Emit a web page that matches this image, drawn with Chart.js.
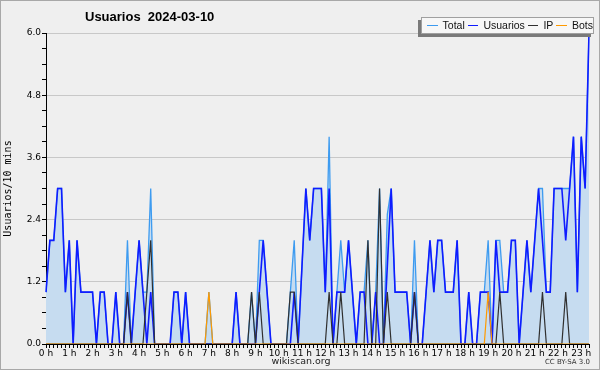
<!DOCTYPE html>
<html>
<head>
<meta charset="utf-8">
<script src="https://cdn.jsdelivr.net/npm/chart.js@4.4.1/dist/chart.umd.min.js"></script>
<style>
  html, body { margin: 0; padding: 0; }
  body { width: 600px; height: 370px; background: #efefef; font-family: "DejaVu Sans", sans-serif; }
  #wrap { position: relative; width: 598px; height: 368px; border: 1px solid #a8a8a8; overflow: hidden; }
  #chart { position: absolute; left: -1px; top: -1px; }
  #title { position: absolute; left: 84px; top: 8px; font-family: "Liberation Sans", sans-serif; font-weight: bold;
           font-size: 13px; color: #000; white-space: pre; }
  #legend { position: absolute; left: 420px; top: 16px; width: 171px; height: 15px; background: #f7f7f7;
            border: 1px solid #a0a0a0; box-shadow: -3px 3px 0 #7a7a7a; display: flex; align-items: flex-start;
            font-family: "Liberation Sans", sans-serif; font-size: 10.5px; line-height: 15px; color: #111; white-space: nowrap; }
  #legend .swatch { width: 11px; height: 1px; margin: 7px 5px 0 3px; }
  #legend .swatch:first-child { margin-left: 5px; }
  #site { position: absolute; left: 0; width: 600px; top: 354px; text-align: center; font-size: 9.5px; color: #222; }
  #lic { position: absolute; right: 9px; top: 357px; font-size: 7px; color: #333; }
</style>
</head>
<body>
<div id="wrap">
  <canvas id="chart" width="600" height="370"></canvas>
  <div id="title">Usuarios  2024-03-10</div>
  <div id="legend"></div>
  <div id="site">wikiscan.org</div>
  <div id="lic">CC BY-SA 3.0</div>
</div>
<script>
// 10-minute slots from 00:00 to 23:20
const hourLabels = ['0 h','1 h','2 h','3 h','4 h','5 h','6 h','7 h','8 h','9 h','10 h','11 h',
  '12 h','13 h','14 h','15 h','16 h','17 h','18 h','19 h','20 h','21 h','22 h','23 h'];

const usuarios = [
  1,2,2,3,3,1, 2,0,2,1,1,1, 1,0,1,1,0,0, 1,0,0,1,0,1, 2,1,0,1,0,0,
  0,0,0,1,1,0, 1,0,0,0,0,0, 0,0,0,0,0,0, 0,1,0,0,0,0, 0,1,2,1,0,0,
  0,0,0,0,1,0, 1.5,3,2,3,3,3, 1,3,0,1,1,1, 2,1,0,1,1,0, 0,1,0,0,1.5,3,
  1,1,1,1,0,1, 0,0,1,2,1,2, 2,1,1,1,2,0, 0,1,0,0,1,1, 1,0,2,1,1,1,
  2,2,0,1,2,1, 2,3,2,1,1,3, 3,3,2,3,4,1, 4,3,6
];
const ip = [
  0,0,0,0,0,0, 0,0,0,0,0,0, 0,0,0,0,0,0, 0,0,0,1,0,0, 0,0,1,2,0,0,
  0,0,0,0,0,0, 0,0,0,0,0,0, 0,0,0,0,0,0, 0,0,0,0,0,1, 0,1,0,0,0,0,
  0,0,0,1,1,0, 0,0,0,0,0,0, 0,1,0,0,1,0, 0,0,0,0,0,2, 0,0,3,0,1,0,
  0,0,0,0,0,1, 0,0,0,0,0,0, 0,0,0,0,0,0, 0,0,0,0,0,0, 0,0,0,1,0,0,
  0,0,0,0,0,0, 0,0,1,0,0,0, 0,0,1,0,0,0, 0,0,0
];
const bots = [
  0,0,0,0,0,0, 0,0,0,0,0,0, 0,0,0,0,0,0, 0,0,0,0,0,0, 0,0,0,0,0,0,
  0,0,0,0,0,0, 0,0,0,0,0,0, 1,0,0,0,0,0, 0,0,0,0,0,0, 0,0,0,0,0,0,
  0,0,0,0,0,0, 0,0,0,0,0,0, 0,0,0,0,0,0, 0,0,0,0,0,0, 0,0,0,0,0,0,
  0,0,0,0,0,0, 0,0,0,0,0,0, 0,0,0,0,0,0, 0,0,0,0,0,0, 1,0,0,0,0,0,
  0,0,0,0,0,0, 0,0,0,0,0,0, 0,0,0,0,0,0, 0,0,0
];
const total = [
  1,2,2,3,3,1, 2,0,2,1,1,1, 1,0,1,1,0,0, 1,0,0,2,0,1, 2,1,1,3,0,0,
  0,0,0,1,1,0, 1,0,0,0,0,0, 1,0,0,0,0,0, 0,1,0,0,0,1, 0,2,2,1,0,0,
  0,0,0,1,2,0, 1.5,3,2,3,3,3, 1,4,0,1,2,1, 2,1,0,1,1,2, 0,1,3,0,2.5,3,
  1,1,1,1,0,2, 0,0,1,2,1,2, 2,1,1,1,2,0, 0,1,0,0,1,1, 2,0,2,2,1,1,
  2,2,0,1,2,1, 2,3,3,1,1,3, 3,3,3,3,4,1, 4,3,6
];

const seriesNames = ['Total', 'Usuarios', 'IP', 'Bots'];
const seriesColors = ['#3d9bf0', '#0f1cff', '#303030', '#ff9a00'];

const slots = [];
for (let i = 0; i < usuarios.length; i++) {
  const m = i * 10;
  slots.push(String(Math.floor(m / 60)).padStart(2, '0') + ':' + String(m % 60).padStart(2, '0'));
}
const yTickValues = [];
for (let k = 0; k <= 20; k++) yTickValues.push(Math.round(k * 3) / 10);

// legend
const legend = document.getElementById('legend');
seriesNames.forEach((name, i) => {
  const sw = document.createElement('div');
  sw.className = 'swatch';
  sw.style.background = seriesColors[i];
  legend.appendChild(sw);
  const t = document.createElement('div');
  t.textContent = name;
  legend.appendChild(t);
});

const isMajor = v => Math.abs(v / 1.2 - Math.round(v / 1.2)) < 1e-6;

const ctx = document.getElementById('chart').getContext('2d');
new Chart(ctx, {
  type: 'line',
  data: {
    labels: slots,
    datasets: [
      { label: 'Total', data: total, borderColor: seriesColors[0], backgroundColor: '#c6dcf0',
        fill: 'origin', borderWidth: 1.3, order: 4 },
      { label: 'Usuarios', data: usuarios, borderColor: seriesColors[1], borderWidth: 1.6, fill: false, order: 3 },
      { label: 'IP', data: ip, borderColor: seriesColors[2], borderWidth: 1.2, fill: false, order: 2 },
      { label: 'Bots', data: bots, borderColor: seriesColors[3], borderWidth: 1.2, fill: false, order: 1 }
    ]
  },
  options: {
    responsive: false,
    animation: false,
    devicePixelRatio: 1,
    elements: { point: { radius: 0 }, line: { tension: 0 } },
    layout: { padding: { top: 33, right: 11, left: 0, bottom: 0 } },
    plugins: { legend: { display: false }, title: { display: false }, tooltip: { enabled: false } },
    scales: {
      x: {
        offset: false,
        border: { color: '#000', width: 1 },
        grid: { drawOnChartArea: false, tickLength: 4, tickColor: '#000', offset: false },
        ticks: {
          autoSkip: false, maxRotation: 0, padding: 0,
          color: '#000', font: { family: 'DejaVu Sans', size: 9 },
          callback: (val, idx) => idx % 6 === 0 ? hourLabels[idx / 6] : ''
        },
        afterFit: scale => { scale.height = 26; }
      },
      y: {
        min: 0, max: 6,
        border: { color: '#000', width: 1 },
        afterBuildTicks: scale => { scale.ticks = yTickValues.map(v => ({ value: v })); },
        title: { display: true, text: 'Usuarios/10 mins', color: '#000',
                 font: { family: 'DejaVu Sans Mono', size: 10 }, padding: { top: 2, bottom: 0 } },
        grid: {
          tickLength: 4, tickColor: '#000',
          color: c => (c.tick && isMajor(c.tick.value) && c.tick.value > 0) ? '#c8c8c8' : 'rgba(0,0,0,0)'
        },
        ticks: {
          padding: 1, color: '#000', font: { family: 'DejaVu Sans', size: 9 },
          callback: v => isMajor(v) ? v.toFixed(1) : ''
        },
        afterFit: scale => { scale.width = 46; }
      }
    }
  }
});
</script>
</body>
</html>
